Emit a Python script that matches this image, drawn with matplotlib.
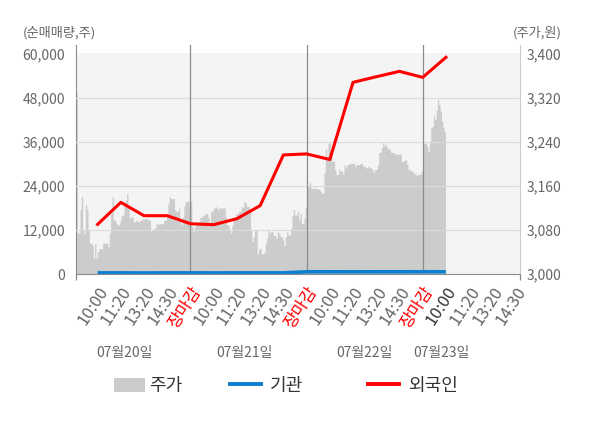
import numpy as np
import matplotlib
matplotlib.use('Agg')
import matplotlib.pyplot as plt
from matplotlib.patches import Patch
from matplotlib.lines import Line2D
from matplotlib import transforms

plt.rcParams['font.family'] = ['Noto Sans CJK KR', 'DejaVu Sans']

# ---------------- data ----------------
tick_labels = ['10:00', '11:20', '13:20', '14:30', '장마감',
               '10:00', '11:20', '13:20', '14:30', '장마감',
               '10:00', '11:20', '13:20', '14:30', '장마감',
               '10:00', '11:20', '13:20', '14:30']
date_labels = ['07월20일', '07월21일', '07월22일', '07월23일']

price_day1 = [3330, 3075, 3075, 3117, 3141, 3080, 3073, 3126, 3117, 3080,
              3056, 3056, 3052, 3028, 3056, 3028, 3040, 3046, 3046, 3046,
              3056, 3056, 3056, 3056, 3049, 3074, 3110, 3141, 3098, 3098,
              3092, 3089, 3089, 3098, 3107, 3107, 3126, 3135, 3146, 3123,
              3101, 3104, 3104, 3095, 3095, 3098, 3095, 3095, 3098, 3098,
              3100, 3100, 3101, 3101, 3098, 3098, 3077, 3080, 3083, 3083,
              3091, 3091, 3091, 3091, 3092, 3092, 3098, 3098, 3110, 3129,
              3140, 3137, 3137, 3137, 3117, 3114, 3114, 3120, 3098, 3089,
              3104, 3124, 3132, 3132, 3132, 3123]
price_day2 = [3132, 3086, 3077, 3086, 3092, 3092, 3095, 3103, 3103, 3107,
              3107, 3110, 3110, 3103, 3089, 3114, 3114, 3119, 3122, 3122,
              3117, 3120, 3120, 3120, 3120, 3120, 3104, 3089, 3089, 3080,
              3075, 3089, 3101, 3101, 3110, 3110, 3114, 3114, 3122, 3122,
              3132, 3129, 3123, 3123, 3117, 3080, 3059, 3068, 3080, 3080,
              3037, 3046, 3046, 3037, 3036, 3040, 3056, 3065, 3080, 3074,
              3077, 3077, 3070, 3070, 3065, 3077, 3074, 3068, 3068, 3062,
              3052, 3068, 3077, 3071, 3071, 3083, 3107, 3117, 3107, 3107,
              3114, 3098, 3110, 3092, 3092, 3101, 3120]
price_day3 = [3159, 3159, 3166, 3157, 3155, 3155, 3157, 3155, 3155, 3154,
              3151, 3147, 3147, 3184, 3227, 3212, 3238, 3238, 3227, 3205,
              3205, 3190, 3181, 3181, 3191, 3187, 3187, 3181, 3198, 3193,
              3199, 3199, 3201, 3201, 3201, 3201, 3195, 3199, 3199, 3199,
              3201, 3201, 3196, 3196, 3193, 3193, 3196, 3193, 3193, 3190,
              3185, 3190, 3190, 3199, 3221, 3221, 3230, 3239, 3233, 3236,
              3230, 3227, 3227, 3221, 3221, 3221, 3218, 3218, 3218, 3218,
              3218, 3204, 3205, 3207, 3207, 3199, 3190, 3190, 3187, 3187,
              3181, 3184, 3179, 3181, 3181, 3181, 3187]
price_day4 = [3238, 3238, 3236, 3232, 3223, 3241, 3265, 3268, 3287, 3281,
              3298, 3317, 3308, 3296, 3278, 3267, 3259]

foreign = [13530, 19540, 15900, 15900, 13700, 13450, 15090, 18640,
           32470, 32750, 31220, 52270, 53800, 55270, 53630, 59100]
institution = [300, 300, 280, 300, 300, 290, 300, 300,
               310, 600, 600, 590, 600, 600, 610, 600]

left_ticks = [0, 12000, 24000, 36000, 48000, 60000]
right_ticks = [3000, 3080, 3160, 3240, 3320, 3400]

# ---------------- layout ----------------
W, H = 600, 428
day_spans = [(0.07, 5.0), (5.0, 10.0), (10.0, 15.0), (15.0, 15.98)]
xlim = (0.07, 19.19)
separators = [5, 10, 15]
date_pos = [2.17, 7.33, 12.51, 15.79]

C_BG = '#f4f4f4'
C_AREA = '#cccccc'
C_GRID = '#dcdcdc'
C_SEP = '#8c8c8c'
C_TXT = '#666666'
C_BLUE = '#0b7fd0'
C_RED = '#ff0000'

fig = plt.figure(figsize=(W / 100, H / 100), dpi=100)
axp = fig.add_axes([76 / W, (H - 274) / H, 444 / W, 229 / H])
axv = axp.twinx()

axp.set_xlim(*xlim)
axp.set_ylim(3000, 3416.4)
axv.set_ylim(0, 62455)

# background
axp.axhspan(3000, 3402.7, color=C_BG, lw=0, zorder=0)

# price area (step)
xs_all, ys_all = [], []
for (a, b), vals in zip(day_spans, [price_day1, price_day2, price_day3, price_day4]):
    edges = np.linspace(a, b, len(vals) + 1)
    xs_all.append(edges)
    ys_all.append(np.append(vals, vals[-1]))
xs_all = np.concatenate(xs_all)
ys_all = np.concatenate(ys_all)
axp.fill_between(xs_all, 3000, ys_all, step='post', color=C_AREA, lw=0, zorder=1)

# grid + separators on top axes
for v in left_ticks[1:-1]:
    axv.axhline(v, color=C_GRID, lw=0.8, zorder=0.5)
for s in separators:
    axv.axvline(s, color=C_SEP, lw=0.9, zorder=1)

# lines
pts = np.arange(1, len(foreign) + 1)
axv.plot(pts, institution, color=C_BLUE, lw=2.6, zorder=3, solid_capstyle='butt')
axv.plot(pts, foreign, color=C_RED, lw=2.2, zorder=4)

# spines
for sp in axv.spines.values():
    sp.set_visible(False)
axp.spines['top'].set_visible(False)
axp.spines['left'].set_color('#8c8c8c')
axp.spines['bottom'].set_color('#8c8c8c')
axp.spines['right'].set_color('#cccccc')

# y ticks
axp.yaxis.tick_right()
axv.yaxis.tick_left()
axv.set_yticks(left_ticks)
axv.set_yticklabels([f'{v:,}' for v in left_ticks])
axp.set_yticks(right_ticks)
axp.set_yticklabels([f'{v:,}' for v in right_ticks])
axv.tick_params(axis='y', length=0, pad=8, labelsize=10, labelcolor=C_TXT)
axp.tick_params(axis='y', length=0, pad=5, labelsize=10, labelcolor=C_TXT)

# x ticks
axp.set_xticks(np.arange(1, len(tick_labels) + 1))
axp.set_xticklabels(tick_labels, rotation=57, ha='right', va='top',
                    rotation_mode='anchor', fontsize=12)
shift = transforms.ScaledTranslation(1.5 / 72, 0, fig.dpi_scale_trans)
for i, lab in enumerate(axp.get_xticklabels()):
    lab.set_transform(lab.get_transform() + shift)
    if tick_labels[i] == '장마감':
        lab.set_color(C_RED)
    elif i == 15:
        lab.set_color('#333333')
    else:
        lab.set_color(C_TXT)
axp.tick_params(axis='x', which='major', length=0, pad=7)
axp.set_xticks([xlim[0]] + separators + [xlim[1]], minor=True)
axp.tick_params(axis='x', which='minor', length=4, color='#8c8c8c', width=0.9)

# axis titles
fig.text(22.7 / W, 1 - 33 / H, '(순매매량,주)', ha='left', va='center', fontsize=9.5, color=C_TXT)
fig.text(561.7 / W, 1 - 33 / H, '(주가,원)', ha='right', va='center', fontsize=9.5, color=C_TXT)

# date labels
trans = transforms.blended_transform_factory(axp.transData, fig.transFigure)
for p, lab in zip(date_pos, date_labels):
    axp.text(p, 1 - 353.5 / H, lab, transform=trans, ha='center', va='center',
             fontsize=10, color=C_TXT)

# legend
leg_y = 1 - 386 / H
items = [
    (Patch(facecolor=C_AREA, edgecolor='none'), '주가', 114, 0.2),
    (Line2D([], [], color=C_BLUE, lw=2.8), '기관', 230, 0.5),
    (Line2D([], [], color=C_RED, lw=2.8), '외국인', 368, 0.5),
]
for h, lab, xpx, tp in items:
    fig.legend([h], [lab], loc='center left', bbox_to_anchor=(xpx / W, leg_y),
               frameon=False, fontsize=13, handlelength=1.72, handleheight=0.8,
               handletextpad=tp, borderpad=0, borderaxespad=0, labelcolor='#333333')

fig.savefig('out.png', dpi=100)
